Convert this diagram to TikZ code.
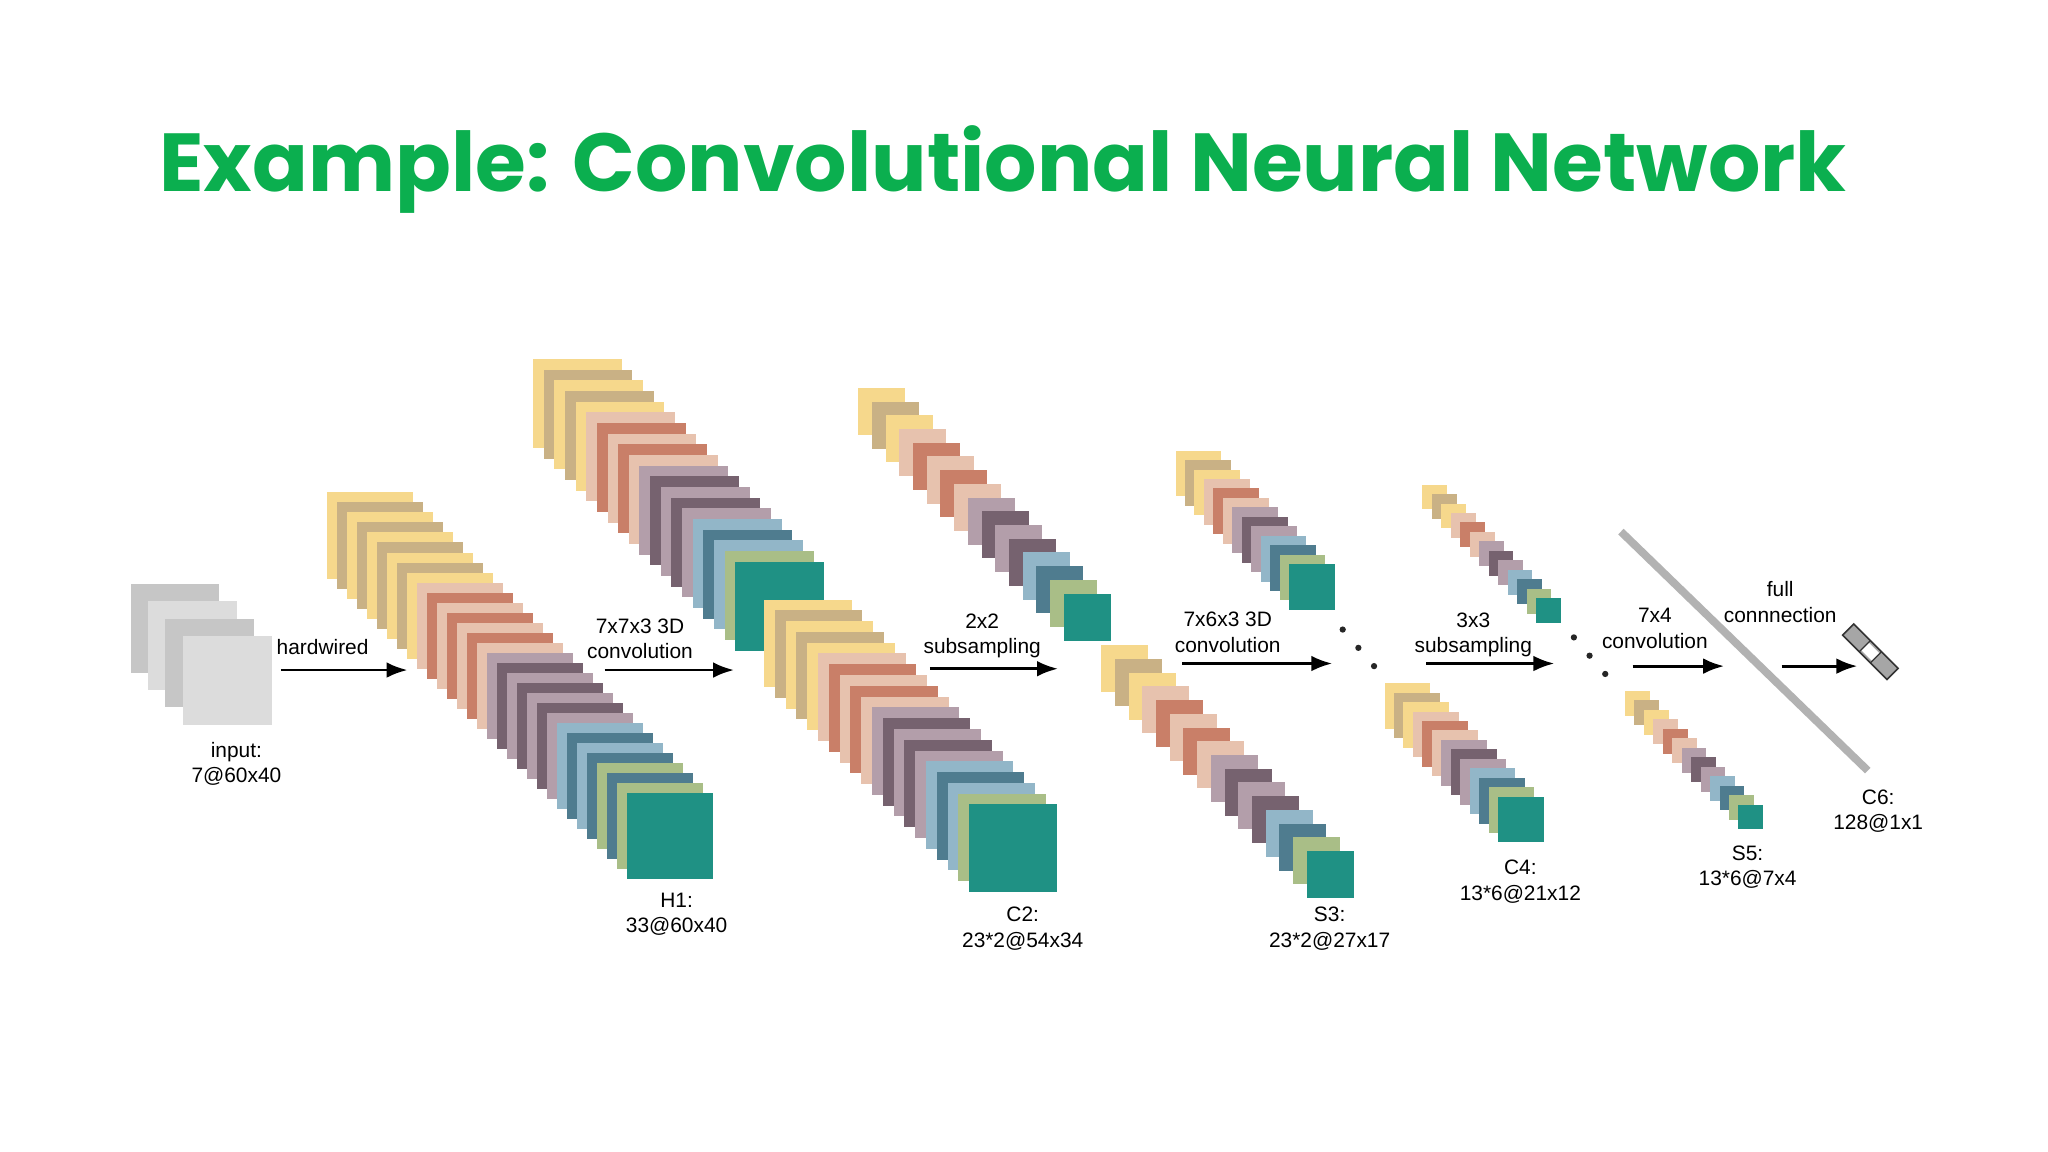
\documentclass[tikz,border=0pt]{standalone}
\usepackage{fontspec}
\setmainfont{Liberation Sans}
\newfontfamily\titlefont{Poppins}
\usetikzlibrary{arrows.meta}
\definecolor{cY}{HTML}{F6D88C}\definecolor{cT}{HTML}{C9B185}
\definecolor{cP}{HTML}{E7C2AE}\definecolor{cS}{HTML}{C97F68}
\definecolor{cML}{HTML}{B39EAA}\definecolor{cDM}{HTML}{76626F}
\definecolor{cLB}{HTML}{92B6C8}\definecolor{cST}{HTML}{4F7C8F}
\definecolor{cSG}{HTML}{A9BE87}\definecolor{cTE}{HTML}{1F9184}
\definecolor{gA}{HTML}{C6C6C6}\definecolor{gB}{HTML}{DCDCDC}
\definecolor{titlegreen}{HTML}{0BAF4F}
\newcommand{\mystack}[5]{%
  \foreach \cc [count=\ii from 0] in {#5}
    \fill[\cc] ({#1+\ii*#4},{#2+\ii*#4}) rectangle ++(#3,#3);}
\tikzset{lbl/.style={font=\fontsize{16}{19.5}\selectfont, align=center, inner sep=0},
  arr/.style={-{Latex[length=16pt,width=12pt]}, line width=2.2pt}}
\begin{document}
\begin{tikzpicture}[x=1pt,y=-1pt]
\useasboundingbox[fill=white] (0,0) rectangle (1568,882);
\node[font=\titlefont\bfseries\fontsize{63}{75}\selectfont, text=titlegreen, anchor=center] (title) at (768,130) {Example: Convolutional Neural Network};
% stacks
\mystack{100}{447}{68}{13.3}{gA,gB,gA,gB}
\mystack{250}{377}{66}{7.67}{cY,cT,cY,cT,cY,cT,cY,cT,cY,cP,cS,cP,cS,cP,cS,cP,cML,cDM,cML,cDM,cML,cDM,cML,cLB,cST,cLB,cST,cSG,cST,cSG,cTE}
\mystack{408}{275}{68}{8.16}{cY,cT,cY,cT,cY,cP,cS,cP,cS,cP,cML,cDM,cML,cDM,cML,cLB,cST,cLB,cSG,cTE}
\mystack{585}{459}{67}{8.26}{cY,cT,cY,cT,cY,cP,cS,cP,cS,cP,cML,cDM,cML,cDM,cML,cLB,cST,cLB,cSG,cTE}
\mystack{657}{297}{36}{10.5}{cY,cT,cY,cP,cS,cP,cS,cP,cML,cDM,cML,cDM,cLB,cST,cSG,cTE}
\mystack{843}{494}{36}{10.5}{cY,cT,cY,cP,cS,cP,cS,cP,cML,cDM,cML,cDM,cLB,cST,cSG,cTE}
\mystack{900}{345}{35}{7.25}{cY,cT,cY,cP,cS,cP,cML,cDM,cML,cLB,cST,cSG,cTE}
\mystack{1060}{523}{35}{7.25}{cY,cT,cY,cP,cS,cP,cML,cDM,cML,cLB,cST,cSG,cTE}
\mystack{1089}{371}{19}{7.25}{cY,cT,cY,cP,cS,cP,cML,cDM,cML,cLB,cST,cSG,cTE}
\mystack{1244}{529}{19}{7.25}{cY,cT,cY,cP,cS,cP,cML,cDM,cML,cLB,cST,cSG,cTE}
% C6 bar
\coordinate (b1) at (1241,407); \coordinate (b2) at (1430,590);
\draw[line width=6pt, color=gray!60] (b1) -- (b2);
\begin{scope}[shift={(1432,499)}, rotate=-45]
\fill[gray!70] (-24,-6) rectangle (24,6);
\fill[white] (-6,-4) rectangle (6,4);
\draw[line width=1.2pt, black!80] (-24,-6) rectangle (24,6);
\draw[line width=1pt, black!80] (-6,-6) -- (-6,6) (6,-6) -- (6,6);
\end{scope}
% dots
\foreach \p in {(1028,482),(1040,496),(1052,510),(1205,488),(1217,502),(1229,516)}
  \fill[black!85] \p circle (2.4);
% arrows and labels
\coordinate (a1s) at (215,513); \coordinate (a1e) at (312,513);
\coordinate (a2s) at (463,513); \coordinate (a2e) at (562,513);
\coordinate (a3s) at (712,512); \coordinate (a3e) at (810,512);
\coordinate (a4s) at (905,508); \coordinate (a4e) at (1020,508);
\coordinate (a5s) at (1092,508); \coordinate (a5e) at (1190,508);
\coordinate (a6s) at (1250,510); \coordinate (a6e) at (1320,510);
\coordinate (a7s) at (1364,510); \coordinate (a7e) at (1422,510);
\foreach \a in {1,...,7} \draw[arr] (a\a s) -- (a\a e);
\node[lbl] (l1) at (247,495) {hardwired};
\node[lbl] (l2) at (490,489) {7x7x3 3D\\convolution};
\node[lbl] (l3) at (752,487) {2x2\\subsampling};
\node[lbl] (l4) at (940,484) {7x6x3 3D\\convolution};
\node[lbl] (l5) at (1128,486) {3x3\\subsampling};
\node[lbl] (l6) at (1267,481) {7x4\\convolution};
\node[lbl] (l7) at (1363,461) {full\\connnection};
\node[lbl] (n0) at (181,585) {input:\\7@60x40};
\node[lbl] (n1) at (518,700) {H1:\\33@60x40};
\node[lbl] (n2) at (783,711) {C2:\\23*2@54x34};
\node[lbl] (n3) at (1018,711) {S3:\\23*2@27x17};
\node[lbl] (n4) at (1164,675) {C4:\\13*6@21x12};
\node[lbl] (n5) at (1338,664) {S5:\\13*6@7x4};
\node[lbl] (n6) at (1438,621) {C6:\\128@1x1};
\end{tikzpicture}
\end{document}
